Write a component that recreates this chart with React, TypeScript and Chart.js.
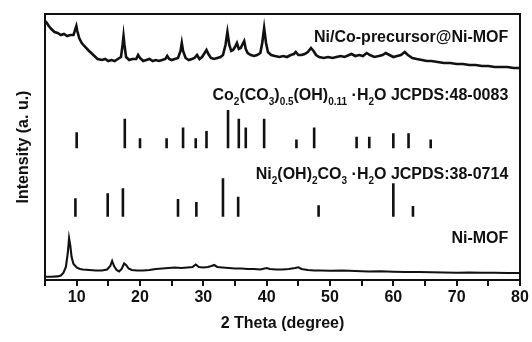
import React, { useEffect, useRef } from "react";
import { Chart, registerables } from "chart.js";

Chart.register(...registerables);

// ---- Data (2θ in degrees, intensity in arbitrary stacked units) ----
const precursorTheta = [
  5.0, 5.3, 5.6, 6.0, 6.5, 7.0, 7.5, 8.0, 8.5, 9.0, 9.5, 9.8, 9.95, 10.1, 10.4, 10.8, 11.2, 11.8, 12.3, 12.8,
  13.3, 14.0, 14.5, 15.0, 15.5, 16.0, 16.5, 17.0, 17.25, 17.4, 17.55, 17.8, 18.3, 18.8, 19.4, 19.7, 20.0, 20.5,
  21.0, 21.5, 22.0, 22.5, 23.0, 23.5, 24.0, 24.3, 24.6, 25.0, 25.5, 26.0, 26.4, 26.6, 26.8, 27.2, 27.7, 28.2,
  28.6, 29.0, 29.4, 29.8, 30.2, 30.5, 30.8, 31.2, 31.7, 32.2, 32.7, 33.1, 33.5, 33.8, 34.1, 34.4, 34.7, 35.0,
  35.3, 35.6, 35.9, 36.2, 36.45, 36.7, 37.0, 37.5, 38.0, 38.5, 39.0, 39.3, 39.6, 39.9, 40.2, 40.7, 41.3, 42.0,
  42.6, 43.2, 43.8, 44.3, 44.6, 45.0, 45.5, 46.0, 46.5, 47.0, 47.4, 47.8, 48.3, 49.0, 49.7, 50.4, 51.0, 51.7,
  52.3, 53.0, 53.4, 54.0, 54.6, 55.2, 55.8, 56.3, 57.0, 57.7, 58.3, 58.8, 59.4, 60.0, 60.6, 61.2, 61.8, 62.3,
  63.0, 63.7, 64.5, 65.3, 66.0, 67.0, 68.0, 69.0, 70.0, 71.0, 72.0, 73.0, 74.0, 75.0, 76.0, 77.0, 78.0, 79.0, 80.0,
];
const precursorIntensity = [
  260, 258, 255, 252, 249, 248, 246, 247, 245, 246, 246, 252, 255, 250, 243, 238, 235, 231, 228, 225,
  222, 221, 222, 220, 221, 220, 222, 224, 236, 245, 236, 224, 221, 222, 222, 226, 223, 220,
  221, 222, 220, 221, 220, 221, 222, 225, 222, 221, 222, 223, 230, 238, 230, 223, 221, 222,
  223, 226, 222, 224, 228, 231, 227, 223, 222, 223, 224, 226, 236, 249, 236, 230, 231, 234,
  238, 232, 233, 237, 240, 232, 228, 226, 225, 226, 228, 238, 253, 238, 229, 226, 225, 224,
  225, 224, 226, 227, 229, 226, 226, 227, 229, 233, 230, 226, 224, 223, 224, 223, 224, 225,
  224, 226, 227, 225, 226, 225, 228, 226, 224, 225, 226, 228, 226, 224, 225, 226, 229, 226,
  223, 222, 221, 220, 220, 219, 218, 218, 217, 217, 216, 216, 215, 215, 214, 214, 214, 213, 213,
];

const mofTheta = [
  5.0, 6.0, 7.0, 7.5, 7.9, 8.3, 8.6, 8.8, 9.0, 9.2, 9.5, 10.0, 10.5, 11.0, 12.0, 13.0, 14.0, 14.8, 15.3, 15.6,
  15.9, 16.3, 16.7, 17.1, 17.5, 17.8, 18.2, 18.7, 19.5, 20.5, 21.5, 22.5, 23.5, 24.5, 25.5, 26.5, 27.5, 28.3,
  28.8, 29.3, 30.0, 30.7, 31.3, 31.7, 32.2, 33.0, 34.0, 35.0, 36.0, 37.0, 38.0, 39.0, 40.0, 40.5, 41.5, 42.5,
  43.5, 44.5, 45.0, 45.5, 46.5, 47.5, 48.5, 50.0, 52.0, 54.0, 56.0, 58.0, 60.0, 62.0, 64.0, 66.0, 68.0, 70.0,
  72.0, 74.0, 76.0, 78.0, 80.0,
];
const mofIntensity = [
  4.3, 4.3, 4.6, 5.5, 8, 14, 28, 42.7, 35, 24, 17, 13.5, 12, 11.5, 11, 10.5, 10.5, 11.5, 15, 20,
  15, 11, 9.5, 12, 17.5, 16, 12.5, 11, 10.5, 10.5, 11, 12, 12.5, 13, 13.5, 13, 13.5, 14,
  16.5, 14, 13.5, 14, 15, 16, 14, 13.5, 13, 12.5, 12.5, 12, 12, 11.5, 13, 12, 11.5, 11.5,
  12, 13, 13.7, 12, 11, 10.5, 10.5, 10.3, 10.5, 10, 9.5, 9.7, 9.3, 9, 9, 8.7, 8.5, 8.3,
  8.5, 8.2, 8.2, 8, 8,
];

// JCPDS 48-0083 reference lines (relative intensity %)
const coPeaks = [10.0, 17.6, 20.0, 24.2, 26.8, 28.8, 30.5, 33.9, 35.6, 36.7, 39.6, 44.7, 47.5, 54.2, 56.2, 60.0, 62.4, 65.9];
const coIntensity = [42, 77, 26, 26, 54, 26, 45, 100, 77, 54, 77, 23, 54, 30, 30, 39, 39, 23];
// JCPDS 38-0714 reference lines (relative intensity %)
const niPeaks = [9.8, 14.9, 17.3, 26.0, 28.9, 33.1, 35.5, 48.2, 60.0, 63.1];
const niIntensity = [48, 61, 74, 46, 38, 100, 52, 30, 87, 28];

const xTicks = [10, 20, 30, 40, 50, 60, 70, 80];

// Text runs: [text, isSubscript]
const precursorLabel: [string, boolean][] = [["Ni/Co-precursor@Ni-MOF", false]];
const coLabel: [string, boolean][] = [
  ["Co", false], ["2", true], ["(CO", false], ["3", true], [")", false], ["0.5", true],
  ["(OH)", false], ["0.11", true], [" \u00B7H", false], ["2", true], ["O JCPDS:48-0083", false],
];
const niLabel: [string, boolean][] = [
  ["Ni", false], ["2", true], ["(OH)", false], ["2", true], ["CO", false], ["3", true],
  [" \u00B7H", false], ["2", true], ["O JCPDS:38-0714", false],
];
const mofLabel: [string, boolean][] = [["Ni-MOF", false]];

const FONT = "'Liberation Sans', Arial, Helvetica, sans-serif";

export default function App() {
  const canvasRef = useRef<HTMLCanvasElement>(null);

  useEffect(() => {
    const canvas = canvasRef.current;
    if (!canvas) return;

    const CO_BASE = 132.7;
    const CO_SPAN = 38.3;
    const NI_BASE = 64.3;
    const NI_SPAN = 38.4;

    const sticks = (pos: number[], inten: number[], base: number, span: number) => {
      const out: { x: number; y: number | null }[] = [];
      pos.forEach((p, i) => {
        out.push({ x: p, y: base });
        out.push({ x: p, y: base + (inten[i] / 100) * span });
        out.push({ x: p, y: null });
      });
      return out;
    };

    const labels = [
      { runs: precursorLabel, x: 78.15, y: 239.3 },
      { runs: coLabel, x: 78.15, y: 181.5 },
      { runs: niLabel, x: 78.15, y: 102.5 },
      { runs: mofLabel, x: 78.15, y: 37.7 },
    ];

    const decorPlugin = {
      id: "decor",
      afterDatasetsDraw(chart: any) {
        const { ctx, scales, chartArea } = chart;
        const xs = scales.x;
        const ys = scales.y;
        ctx.save();
        ctx.fillStyle = "#111";
        ctx.textBaseline = "alphabetic";
        const mainFont = `bold 16px ${FONT}`;
        const subFont = `bold 10px ${FONT}`;
        labels.forEach((l) => {
          let total = 0;
          l.runs.forEach(([t, sub]) => {
            ctx.font = sub ? subFont : mainFont;
            total += ctx.measureText(t).width;
          });
          let cx = xs.getPixelForValue(l.x) - total;
          const by = ys.getPixelForValue(l.y);
          l.runs.forEach(([t, sub]) => {
            ctx.font = sub ? subFont : mainFont;
            ctx.fillText(t, cx, sub ? by + 5 : by);
            cx += ctx.measureText(t).width;
          });
        });
        ctx.strokeStyle = "#111";
        ctx.lineWidth = 2;
        ctx.strokeRect(chartArea.left, chartArea.top, chartArea.right - chartArea.left, chartArea.bottom - chartArea.top);
        ctx.restore();
      },
    };

    const chart = new Chart(canvas, {
      type: "line",
      data: {
        datasets: [
          {
            data: precursorTheta.map((t, i) => ({ x: t, y: precursorIntensity[i] })),
            borderColor: "#111",
            borderWidth: 2.6,
            pointRadius: 0,
            tension: 0,
          },
          {
            data: sticks(coPeaks, coIntensity, CO_BASE, CO_SPAN),
            borderColor: "#111",
            borderWidth: 2.6,
            borderCapStyle: "butt",
            pointRadius: 0,
            spanGaps: false,
          },
          {
            data: sticks(niPeaks, niIntensity, NI_BASE, NI_SPAN),
            borderColor: "#111",
            borderWidth: 2.6,
            borderCapStyle: "butt",
            pointRadius: 0,
            spanGaps: false,
          },
          {
            data: mofTheta.map((t, i) => ({ x: t, y: mofIntensity[i] })),
            borderColor: "#111",
            borderWidth: 2.1,
            pointRadius: 0,
            tension: 0,
          },
        ] as any,
      },
      options: {
        animation: false,
        responsive: false,
        maintainAspectRatio: false,
        layout: { padding: { top: 14, right: 12, left: 0, bottom: 0 } },
        plugins: { legend: { display: false }, tooltip: { enabled: false } },
        scales: {
          x: {
            type: "linear",
            min: 5,
            max: 80,
            afterFit: (s: any) => {
              s.height = 62;
            },
            border: { display: false },
            grid: {
              display: true,
              drawOnChartArea: false,
              drawTicks: true,
              tickLength: 6,
              color: "#111",
              lineWidth: 2,
            },
            ticks: {
              stepSize: 5,
              padding: 2,
              color: "#111",
              font: { family: FONT, size: 16, weight: "bold" },
              maxRotation: 0,
              autoSkip: false,
              callback: (v: any) => (xTicks.includes(Number(v)) ? String(v) : ""),
            },
            title: {
              display: true,
              text: "2 Theta (degree)",
              color: "#111",
              font: { family: FONT, size: 16, weight: "bold" },
              padding: { top: 0, bottom: 9 },
            },
          },
          y: {
            type: "linear",
            min: 1,
            max: 267,
            afterFit: (s: any) => {
              s.width = 45;
            },
            border: { display: false },
            grid: { display: false },
            ticks: { display: false },
            title: {
              display: true,
              text: "Intensity (a. u.)",
              color: "#111",
              font: { family: FONT, size: 16, weight: "bold" },
              padding: { top: 14, bottom: 0 },
            },
          },
        },
      },
      plugins: [decorPlugin],
    } as any);

    return () => chart.destroy();
  }, []);

  return (
    <div style={{ position: "fixed", left: 0, top: 0, width: 532, height: 342, background: "#fff" }}>
      <canvas ref={canvasRef} width={532} height={342} style={{ display: "block" }} />
    </div>
  );
}
